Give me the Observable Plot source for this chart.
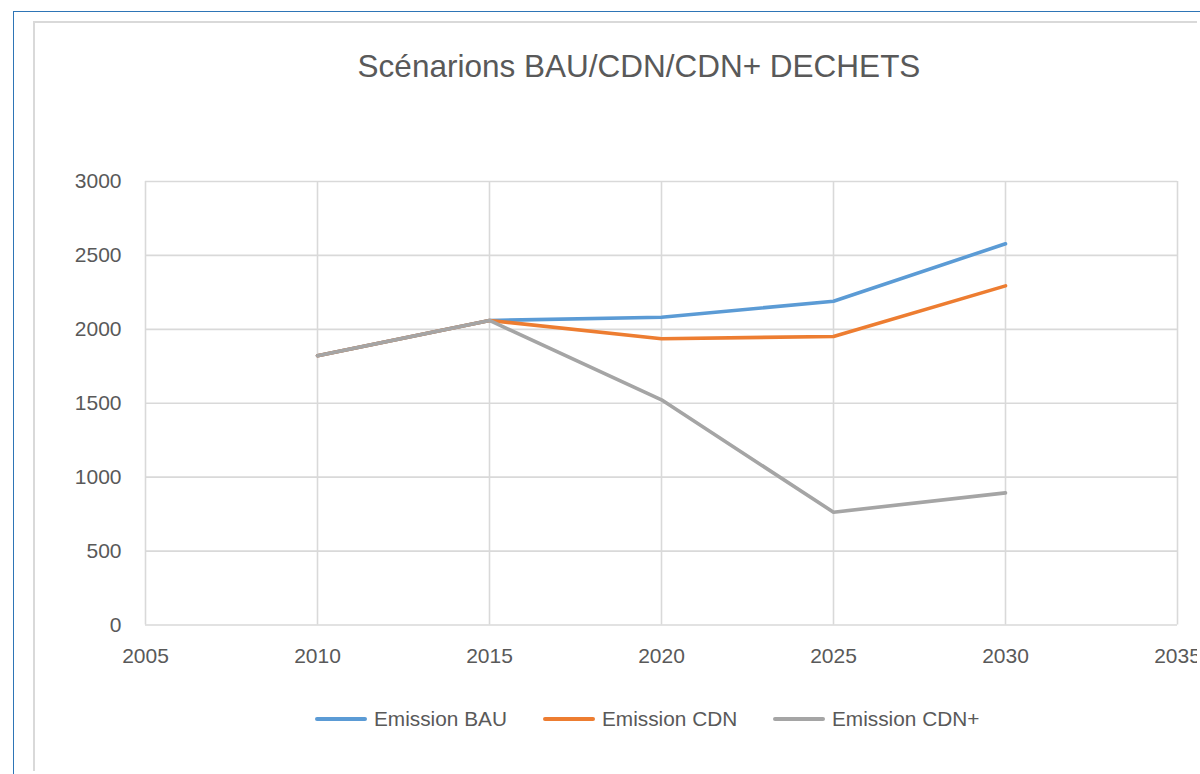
<!DOCTYPE html>
<html>
<head>
<meta charset="utf-8">
<script src="https://cdn.jsdelivr.net/npm/d3@7"></script>
<script src="https://cdn.jsdelivr.net/npm/@observablehq/plot@0.6"></script>
<style>
  html, body { margin: 0; padding: 0; background: #fff; width: 1200px; height: 774px; overflow: hidden; }
  body { position: relative; font-family: "Liberation Sans", Arial, sans-serif; color: #595959; }
  #outerTop { position: absolute; left: 13px; top: 11px; width: 1187px; height: 0; border-top: 1.5px solid #2e75b6; }
  #outerLeft { position: absolute; left: 12.5px; top: 11px; width: 0; height: 763px; border-left: 1.5px solid #2e75b6; }
  #box { position: absolute; left: 33px; top: 21px; width: 1162px; height: 748px; border-top: 2px solid #d9d9d9; border-left: 2px solid #d9d9d9; overflow: hidden; background: #fff; }
  #chart { position: absolute; left: 0; top: 0; }
  #title { position: absolute; left: 0; width: 1160px; top: 25px; text-align: center; font-size: 31.5px; color: #595959; white-space: nowrap; padding-left: 48px; box-sizing: border-box; }
  #legend { position: absolute; top: 683px; left: 0; width: 1160px; height: 26px; }
  .item { position: absolute; top: 0; display: flex; align-items: center; height: 26px; font-size: 20.8px; color: #595959; white-space: nowrap; }
  .swatch { width: 52px; height: 3.5px; border-radius: 2px; margin-right: 7px; }
</style>
</head>
<body>
<div id="outerTop"></div>
<div id="outerLeft"></div>
<div id="box">
  <div id="chart"></div>
  <div id="title"></div>
  <div id="legend"></div>
</div>
<script>
const titleText = "Scénarions BAU/CDN/CDN+ DECHETS";
const years = [2010, 2015, 2020, 2025, 2030];
const seriesNames = ["Emission BAU", "Emission CDN", "Emission CDN+"];
const emissionBAU = [1822, 2060, 2082, 2190, 2579];
const emissionCDN = [1822, 2060, 1936, 1952, 2294];
const emissionCDNPlus = [1822, 2060, 1523, 763, 894];
const seriesColors = ["#5b9bd5", "#ed7d31", "#a5a5a5"];
const xTicks = [2005, 2010, 2015, 2020, 2025, 2030, 2035];
const yTicks = [0, 500, 1000, 1500, 2000, 2500, 3000];

const seriesValues = [emissionBAU, emissionCDN, emissionCDNPlus];
const data = [];
seriesNames.forEach((name, i) => {
  years.forEach((yr, j) => data.push({series: name, year: yr, value: seriesValues[i][j]}));
});

const font = '"Liberation Sans", Arial, sans-serif';
const chart = Plot.plot({
  width: 1160,
  height: 748,
  marginLeft: 110,
  marginRight: 18,
  marginTop: 158,
  marginBottom: 146.5,
  style: {fontFamily: font, fontSize: "21px", color: "#595959", background: "transparent", overflow: "visible"},
  x: {domain: [2005, 2035], ticks: xTicks, tickFormat: "d", tickSize: 0, tickPadding: 23, label: null},
  y: {domain: [0, 3000], ticks: yTicks, tickFormat: "d", tickSize: 0, tickPadding: 24, label: null},
  color: {domain: seriesNames, range: seriesColors},
  marks: [
    Plot.gridX(xTicks, {stroke: "#d9d9d9", strokeOpacity: 1, strokeWidth: 1.6}),
    Plot.gridY(yTicks, {stroke: "#d9d9d9", strokeOpacity: 1, strokeWidth: 1.6}),
    Plot.axisX({ticks: xTicks, tickFormat: "d", tickSize: 0, tickPadding: 23, fill: "#595959", fontSize: 21}),
    Plot.axisY({ticks: yTicks, tickFormat: "d", tickSize: 0, tickPadding: 24, fill: "#595959", fontSize: 21}),
    Plot.line(data, {x: "year", y: "value", z: "series", stroke: "series", strokeWidth: 3.6, strokeLinecap: "round", strokeLinejoin: "round"})
  ]
});
document.getElementById("chart").appendChild(chart);
document.getElementById("title").textContent = titleText;

const legendLefts = [280, 508, 738];
const legend = document.getElementById("legend");
seriesNames.forEach((name, i) => {
  const item = document.createElement("div");
  item.className = "item";
  item.style.left = legendLefts[i] + "px";
  const sw = document.createElement("div");
  sw.className = "swatch";
  sw.style.background = seriesColors[i];
  const label = document.createElement("span");
  label.textContent = name;
  item.appendChild(sw);
  item.appendChild(label);
  legend.appendChild(item);
});
</script>
</body>
</html>
